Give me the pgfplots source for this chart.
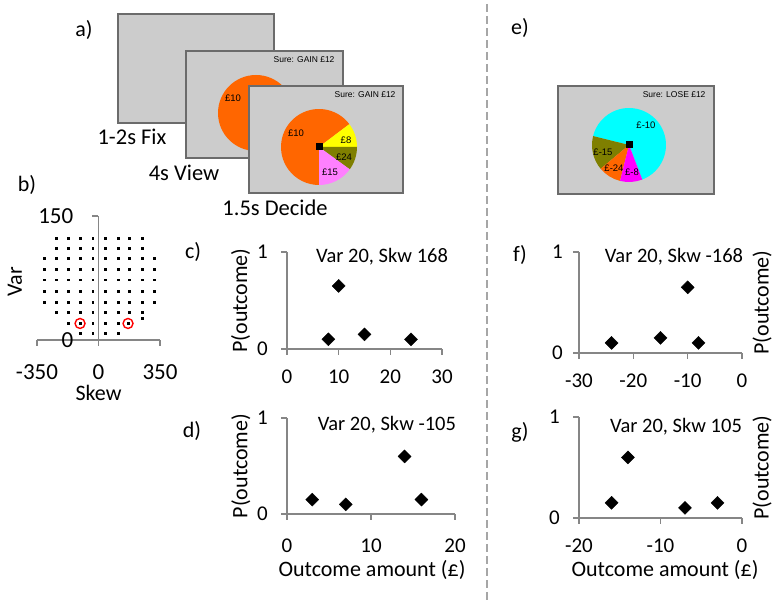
\documentclass[border=0pt]{standalone}
\usepackage{fontspec}
\setmainfont{Carlito}
\newfontfamily\arialf{Liberation Sans}
\usepackage{pgfplots}
\pgfplotsset{compat=1.18}
\definecolor{axgray}{HTML}{868686}
\definecolor{scrfill}{HTML}{CCCCCC}
\definecolor{scrline}{HTML}{6B6B6B}
\definecolor{pOrange}{HTML}{FF6600}
\definecolor{pYellow}{HTML}{FFFF00}
\definecolor{pOlive}{HTML}{7F7F00}
\definecolor{pPink}{HTML}{FF80FF}
\definecolor{pCyan}{HTML}{00FFFF}
\definecolor{pMag}{HTML}{FF00FF}
\definecolor{dashgray}{HTML}{A6A6A6}
\newcommand{\fsTick}{\fontsize{21}{24}\selectfont}
\newcommand{\fsLab}{\fontsize{22}{26}\selectfont}
\newcommand{\fsTitle}{\fontsize{20.5}{24}\selectfont}
\newcommand{\fsPanel}{\fontsize{22}{26}\selectfont}
\newcommand{\fsScr}{\arialf\fontsize{8.5}{10}\selectfont}
\newcommand{\fsPie}{\arialf\fontsize{9.5}{11}\selectfont}
\pgfplotsset{
  exc/.style={scale only axis, clip=false,
    axis x line*=bottom, axis y line*=left,
    axis line style={draw=axgray, line width=1.2pt},
    tick style={draw=axgray, line width=1.2pt},
    major tick length=6pt, tick align=outside,
    ymin=0, ymax=1, ytick={0,1},
    /pgf/number format/assume math mode=true,
    tick label style={font=\fsTick, inner sep=1pt},
    yticklabel style={xshift=-12pt},
    xticklabel style={yshift=-14pt},
  },
  dia/.style={only marks, mark=square*, mark size=4.6pt,
    mark options={rotate=45, fill=black, draw=black}},
}
\begin{document}
\begin{tikzpicture}[x=1pt,y=1pt]
\path[use as bounding box] (0,0) rectangle (780,602);

% ---------- panel a: screens ----------
\draw[draw=scrline, fill=scrfill, line width=1.8pt] (118,479) rectangle (274,588);
% view screen
\draw[draw=scrline, fill=scrfill, line width=1.8pt] (186,444) rectangle (343,551);
\fill[pOrange] (256,489) circle[radius=38pt];
\node[font=\fsPie] at (233,504) {£10};
\node[font=\fsScr, anchor=east] at (338,542) {Sure: GAIN £12};
% decide screen
\draw[draw=scrline, fill=scrfill, line width=1.8pt] (249,409) rectangle (403,516);
\fill[pOrange] (319,455) -- ++(37:38pt) arc[start angle=37, end angle=270, radius=38pt] -- cycle;
\fill[pYellow] (319,455) -- ++(0:38pt) arc[start angle=0, end angle=37, radius=38pt] -- cycle;
\fill[pOlive] (319,455) -- ++(-36:38pt) arc[start angle=-36, end angle=0, radius=38pt] -- cycle;
\fill[pPink] (319,455) -- ++(-90:38pt) arc[start angle=-90, end angle=-36, radius=38pt] -- cycle;
\fill[black] (315.5,451.5) rectangle (322.5,458.5);
\node[font=\fsPie] at (296,469) {£10};
\node[font=\fsPie] at (346,462) {£8};
\node[font=\fsPie] at (344,445) {£24};
\node[font=\fsPie] at (330,430) {£15};
\node[font=\fsScr, anchor=east] at (399,507) {Sure: GAIN £12};
\node[font=\fontsize{22.5}{26}\selectfont] at (132,465) {1-2s Fix};
\node[font=\fontsize{22.5}{26}\selectfont] at (184,429) {4s View};
\node[font=\fontsize{22.5}{26}\selectfont] at (275,394) {1.5s Decide};

% ---------- panel e: screen ----------
\draw[draw=scrline, fill=scrfill, line width=1.8pt] (558,408) rectangle (714,516);
\fill[pCyan] (629,457) -- ++(-69:37pt) arc[start angle=-69, end angle=166, radius=37pt] -- cycle;
\fill[pOlive] (629,457) -- ++(166:37pt) arc[start angle=166, end angle=220, radius=37pt] -- cycle;
\fill[pOrange] (629,457) -- ++(220:37pt) arc[start angle=220, end angle=256, radius=37pt] -- cycle;
\fill[pMag] (629,457) -- ++(256:37pt) arc[start angle=256, end angle=291, radius=37pt] -- cycle;
\fill[black] (625.5,453.5) rectangle (632.5,460.5);
\node[font=\fsPie] at (646,477) {£-10};
\node[font=\fsPie] at (603,450) {£-15};
\node[font=\fsPie] at (614,434) {£-24};
\node[font=\fsPie] at (632,430) {£-8};
\node[font=\fsScr, anchor=east] at (709,507) {Sure: LOSE £12};

% ---------- divider ----------
\draw[dashgray, line width=2.4pt, dash pattern=on 8pt off 4pt] (487,598) -- (487,2);

% ---------- panel letters ----------
\node[font=\fsPanel] at (84,572) {a)};
\node[font=\fsPanel] at (27,417) {b)};
\node[font=\fsPanel] at (193,350) {c)};
\node[font=\fsPanel] at (192,171) {d)};
\node[font=\fsPanel] at (520,574) {e)};
\node[font=\fsPanel] at (520,347) {f)};
\node[font=\fsPanel] at (520,170) {g)};

% ---------- panel b ----------
\begin{axis}[exc, at={(37pt,262pt)}, anchor=south west, width=123pt, height=124pt,
  axis y line*=middle,
  xmin=-350, xmax=350, ymin=0, ymax=150,
  xtick={-350,0,350}, ytick={0,150},
  hide obscured x ticks=false, hide obscured y ticks=false,
  tick label style={font=\fontsize{23}{26}\selectfont},
  yticklabel style={xshift=-6pt},
  xticklabel style={yshift=-3pt},
  xlabel={Skew}, ylabel={Var},
  every axis x label/.style={at={(axis description cs:0.5,0)}, anchor=center, yshift=-53pt, font=\fsLab},
  every axis y label/.style={at={(axis description cs:-0.18,0.47)}, rotate=90, anchor=center, font=\fsLab},
]
\addplot[only marks, mark=square*, mark size=0.9pt, black] coordinates {
(-241,123)(-171,123)(-103,123)(-33,123)(39,123)(110,123)(176,123)(248,123)
(-241,111)(-171,111)(-103,111)(-33,111)(39,111)(110,111)(176,111)(248,111)
(-311,99)(-241,99)(-171,99)(-103,99)(-33,99)(39,99)(110,99)(176,99)(248,99)(319,99)
(-311,86)(-241,86)(-171,86)(-103,86)(-33,86)(39,86)(110,86)(176,86)(248,86)(319,86)
(-311,73)(-241,73)(-171,73)(-103,73)(-33,73)(39,73)(110,73)(176,73)(248,73)(319,73)
(-311,59)(-241,59)(-171,59)(-103,59)(-33,59)(39,59)(110,59)(176,59)(248,59)(319,59)
(-311,46)(-241,46)(-171,46)(-103,46)(-33,46)(39,46)(110,46)(176,46)(248,46)(319,46)
(-241,34)(-171,34)(-103,34)(-33,34)(39,34)(110,34)(176,34)(248,34)
(-171,20)(-105,20)(-33,20)(39,20)(110,20)(168,20)(248,26)
(-103,8)(-33,8)(39,8)(110,8)
};
\addplot[only marks, mark=o, mark size=5pt, red, line width=1.4pt] coordinates {(-105,20)(168,20)};
\end{axis}

% ---------- panel c ----------
\begin{axis}[exc, at={(287pt,253pt)}, anchor=south west, width=155pt, height=97pt,
  xmin=0, xmax=30, xtick={0,10,20,30},
  ylabel={P(outcome)},
  every axis y label/.style={at={(axis description cs:-0.30,0.5)}, rotate=90, anchor=center, font=\fsLab},
]
\addplot[dia] coordinates {(8,0.1)(10,0.65)(15,0.15)(24,0.1)};
\node[font=\fsTitle] at (rel axis cs:0.613,0.95) {Var 20, Skw 168};
\end{axis}

% ---------- panel d ----------
\begin{axis}[exc, at={(287pt,88pt)}, anchor=south west, width=168pt, height=96pt,
  xmin=0, xmax=20, xtick={0,10,20},
  xticklabel style={yshift=-4pt},
  ylabel={P(outcome)}, xlabel={Outcome amount (£)},
  every axis y label/.style={at={(axis description cs:-0.274,0.5)}, rotate=90, anchor=center, font=\fsLab},
  every axis x label/.style={at={(axis description cs:0.506,0)}, anchor=center, yshift=-56pt, font=\fsLab},
]
\addplot[dia] coordinates {(3,0.15)(7,0.1)(14,0.6)(16,0.15)};
\node[font=\fsTitle] at (rel axis cs:0.595,0.93) {Var 20, Skw -105};
\end{axis}

% ---------- panel f ----------
\begin{axis}[exc, at={(579pt,249pt)}, anchor=south west, width=163pt, height=101pt,
  xmin=-30, xmax=0, xtick={-30,-20,-10,0},
  yticklabel style={xshift=3pt},
  ylabel={P(outcome)},
  every axis y label/.style={at={(axis description cs:1.123,0.5)}, rotate=90, anchor=center, font=\fsLab},
]
\addplot[dia] coordinates {(-24,0.1)(-15,0.15)(-10,0.65)(-8,0.1)};
\node[font=\fsTitle] at (rel axis cs:0.583,0.95) {Var 20, Skw -168};
\end{axis}

% ---------- panel g ----------
\begin{axis}[exc, at={(579pt,84pt)}, anchor=south west, width=163pt, height=101pt,
  xmin=-20, xmax=0, xtick={-20,-10,0},
  ylabel={P(outcome)}, xlabel={Outcome amount (£)},
  every axis y label/.style={at={(axis description cs:1.123,0.5)}, rotate=90, anchor=center, font=\fsLab},
  every axis x label/.style={at={(axis description cs:0.528,0)}, anchor=center, yshift=-52pt, font=\fsLab},
]
\addplot[dia] coordinates {(-16,0.15)(-14,0.6)(-7,0.1)(-3,0.15)};
\node[font=\fsTitle] at (rel axis cs:0.595,0.90) {Var 20, Skw 105};
\end{axis}
\end{tikzpicture}
\end{document}
